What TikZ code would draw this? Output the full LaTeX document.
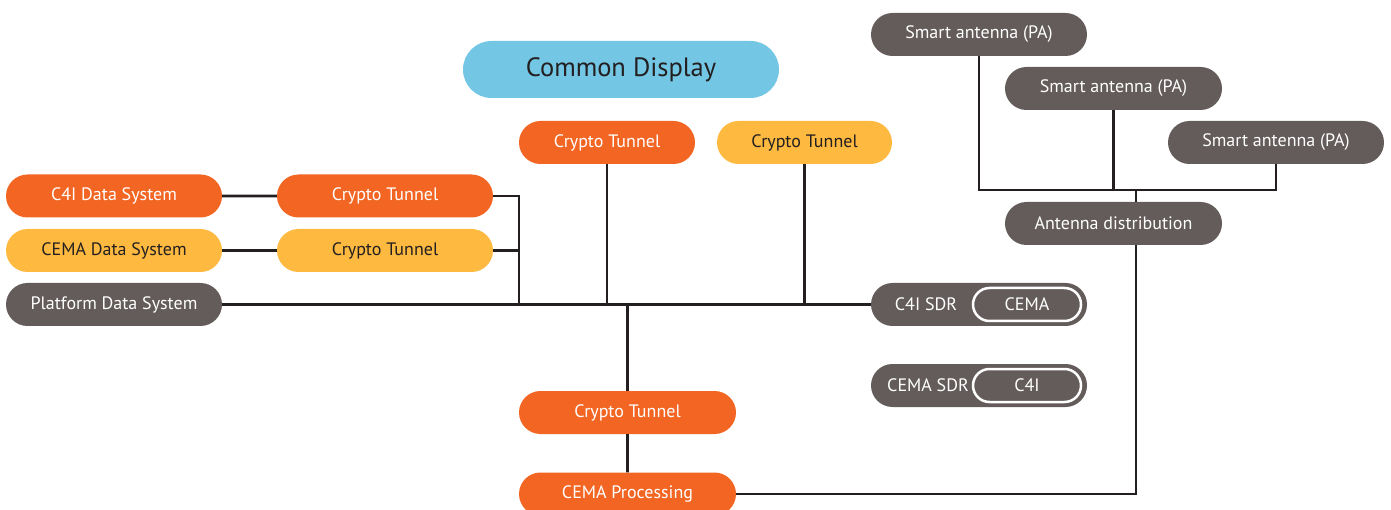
\documentclass[tikz,border=0pt]{standalone}
\usepackage{fontspec}
\setmainfont{PT Sans}
\usetikzlibrary{shapes.misc}
\definecolor{orng}{HTML}{F26522}
\definecolor{yllw}{HTML}{FDB940}
\definecolor{gry}{HTML}{635C5B}
\definecolor{sky}{HTML}{73C6E4}
\definecolor{ink}{HTML}{231F20}
\begin{document}
\begin{tikzpicture}[x=1pt,y=-1pt,
  pill/.style={rounded rectangle,minimum width=216pt,minimum height=43pt,inner sep=0pt,
    font=\fontsize{18}{21}\selectfont},
  orangebox/.style={pill,fill=orng,text=white},
  yellowbox/.style={pill,fill=yllw,text=ink},
  greybox/.style={pill,fill=gry,text=white},
  innerpill/.style={rounded rectangle,draw=white,line width=2.5pt,minimum width=108pt,
    minimum height=33pt,inner sep=0pt,text=white,font=\fontsize{18}{21}\selectfont},
  wire/.style={line width=2.6pt,draw=ink}]
\useasboundingbox (0,0) rectangle (1391,510);
% top
\node[pill,fill=sky,text=ink,minimum width=316pt,minimum height=57pt,
  font=\fontsize{26.5}{30}\selectfont] (disp) at (621,69.5) {Common Display};
\node[orangebox,minimum width=176pt] (ctA) at (607,142.5) {Crypto Tunnel};
\node[yellowbox,minimum width=175pt] (ctB) at (804.5,142.5) {Crypto Tunnel};
% left side
\node[orangebox] (c4ids) at (114,196) {C4I Data System};
\node[orangebox] (ctC) at (385,196) {Crypto Tunnel};
\node[yellowbox] (cemads) at (114,250.5) {CEMA Data System};
\node[yellowbox] (ctD) at (385,250.5) {Crypto Tunnel};
\node[greybox] (pds) at (114,304.5) {Platform Data System};
% bottom
\node[orangebox,minimum width=217pt] (ctE) at (627.5,412.5) {Crypto Tunnel};
\node[orangebox,minimum width=217pt] (proc) at (627.5,494) {CEMA Processing};
% radios
\node[greybox] (sdrA) at (979,304.5) {};
\node[text=white,font=\fontsize{18}{21}\selectfont] (sdrAlbl) at (926,304) {C4I SDR};
\node[innerpill] (cemaA) at (1027,304.5) {CEMA};
\node[greybox] (sdrB) at (979,385.5) {};
\node[text=white,font=\fontsize{18}{21}\selectfont] (sdrBlbl) at (928,385) {CEMA SDR};
\node[innerpill] (c4iB) at (1027,385.5) {C4I};
% antennas
\node[greybox] (sa1) at (979,34.5) {Smart antenna (PA)};
\node[greybox,minimum width=217pt] (sa2) at (1113.5,88.5) {Smart antenna (PA)};
\node[greybox] (sa3) at (1276,142.5) {Smart antenna (PA)};
\node[greybox,minimum width=217pt] (adist) at (1113.5,223.5) {Antenna distribution};

\coordinate (bj) at (519,304.5);
\coordinate (aj) at (1136,190);
\draw[wire] (c4ids) -- (ctC);
\draw[wire] (cemads) -- (ctD);
\draw[wire] (ctC.east) -| (bj);
\draw[wire] (ctD.east) -- (ctD.east -| bj);
\draw[wire] (pds) -- (sdrA);
\draw[wire] (ctA.south) -- (ctA.south |- pds.east);
\draw[wire] (ctB.south) -- (ctB.south |- pds.east);
\draw[wire] (ctE.north) -- (ctE.north |- pds.east);
\draw[wire] (ctE) -- (proc);
\draw[wire] (sa1.south) |- (aj) -| (sa3.south);
\draw[wire] (sa2.south) -- (sa2.south |- aj);
\draw[wire] (aj) -- (aj |- adist.north);
\draw[wire] (proc.east) -| (aj |- adist.south);
\end{tikzpicture}
\end{document}
